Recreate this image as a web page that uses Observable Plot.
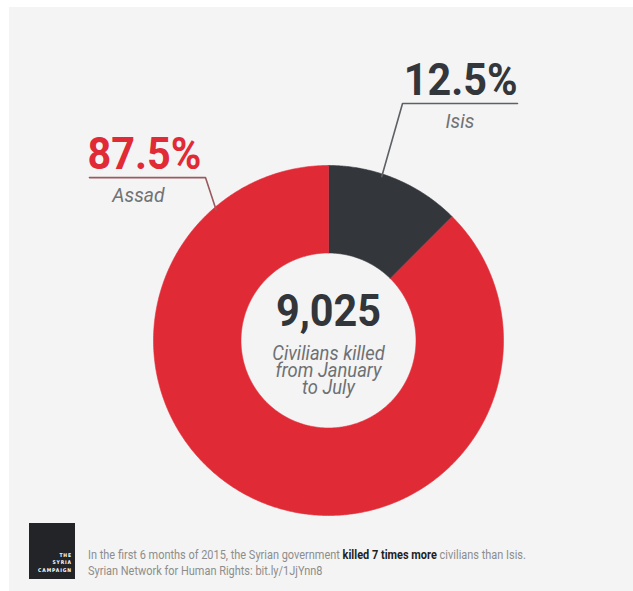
<!DOCTYPE html>
<html><head><meta charset="utf-8">
<script src="https://cdn.jsdelivr.net/npm/d3@7"></script>
<script src="https://cdn.jsdelivr.net/npm/@observablehq/plot@0.6"></script>
<style>
html,body{margin:0;padding:0;background:#fff;}
#page{position:relative;width:633px;height:591px;overflow:hidden;background:#fff;}
#panel{position:absolute;left:9px;top:7px;right:0;bottom:0;background:#f4f4f4;}
#chart{position:absolute;left:0;top:0;}
#logo{position:absolute;left:29px;top:523px;width:46px;height:56px;background:#232427;}
#logo div{position:absolute;right:3px;bottom:5px;color:#fff;font:bold 5px "DejaVu Sans Condensed",sans-serif;letter-spacing:0.9px;text-align:right;line-height:7.5px;}
#foot{position:absolute;left:88px;top:547px;font-family:Roboto,sans-serif;font-size:13px;line-height:16px;color:#8d8d8d;white-space:nowrap;transform:scaleX(0.843);transform-origin:0 0;}
#foot b{color:#1e1f22;}
</style></head>
<body>
<div id="page"><div id="panel"></div><div id="chart"></div>
<div id="logo"><div>THE<br>SYRIA<br>CAMPAIGN</div></div>
<div id="foot"></div></div>
<script>
// ---- data ----
const categories = ["Isis", "Assad"];
const shares = [12.5, 87.5];
const colors = ["#33363b", "#e02b37"];
const total = 9025;
const centerLines = ["Civilians killed", "from January", "to July"];
const footLine1 = ["In the first 6 months of 2015, the Syrian government ", "killed 7 times more", " civilians than Isis."];
const footLine2 = "Syrian Network for Human Rights: bit.ly/1JjYnn8";

// ---- layout (not data) ----
const FONT = "Roboto, sans-serif";
const labelLayout = {
  Isis:  {angle: 18,    elbow: [0.423, 1.354],  end: [1.08, 1.354],   anchor: "end",   dxPct: 0,  dxName: 0, line: "#5d6064"},
  Assad: {angle: -40.7, elbow: [-0.703, 0.931], end: [-1.366, 0.931], anchor: "start", dxPct: -2, dxName: -9, line: "#9a5a5e"}
};
const innerR = 0.5, outerR = 1;

const rows = categories.map((name, i) => ({name, share: shares[i], color: colors[i]}));
const arcs = d3.pie().sort(null).value(d => d.share)(rows);
const ring = arcs.flatMap(p => {
  const n = Math.max(2, Math.ceil((p.endAngle - p.startAngle) / (Math.PI / 360)));
  const pts = [];
  for (let i = 0; i <= n; i++) {
    const a = p.startAngle + (p.endAngle - p.startAngle) * i / n;
    pts.push({name: p.data.name, x: outerR * Math.sin(a), y: outerR * Math.cos(a)});
  }
  for (let i = n; i >= 0; i--) {
    const a = p.startAngle + (p.endAngle - p.startAngle) * i / n;
    pts.push({name: p.data.name, x: innerR * Math.sin(a), y: innerR * Math.cos(a)});
  }
  return pts;
});

const fmtPct = d => d3.format(".1f")(d) + "%";

const labelMarks = rows.flatMap(r => {
  const L = labelLayout[r.name];
  const a = L.angle * Math.PI / 180;
  const pts = [
    {x: outerR * Math.sin(a) * 0.985, y: outerR * Math.cos(a) * 0.985},
    {x: L.elbow[0], y: L.elbow[1]},
    {x: L.end[0], y: L.end[1]}
  ];
  const mid = {x: (L.elbow[0] + L.end[0]) / 2, y: L.end[1]};
  return [
    Plot.line(pts, {x: "x", y: "y", stroke: L.line, strokeWidth: 1.6}),
    Plot.text([r], {x: () => L.end[0], y: () => L.end[1], text: d => fmtPct(d.share), fill: r.color,
      textAnchor: L.anchor, lineAnchor: "bottom", dy: -9, dx: L.dxPct, fontSize: 45, fontWeight: "bold", fontFamily: FONT}),
    Plot.text([r], {x: () => mid.x, y: () => mid.y, text: "name", fill: "#707274", textAnchor: "middle",
      lineAnchor: "bottom", dy: 24, dx: L.dxName, fontSize: 21, fontStyle: "italic", fontFamily: FONT})
  ];
});

const chart = Plot.plot({
  width: 633, height: 591, margin: 0,
  style: {background: "transparent", overflow: "visible"},
  x: {domain: [-1, 1], range: [153, 503], axis: null},
  y: {domain: [-1, 1], range: [515, 165], axis: null},
  color: {domain: categories, range: colors},
  marks: [
    Plot.line(ring, {x: "x", y: "y", z: "name", fill: "name", stroke: "name", strokeWidth: 0.6, curve: "linear-closed"}),
    ...labelMarks,
    Plot.text([total], {x: () => 0, y: () => 0, text: d => d3.format(",")(d), fill: "#323539", fontSize: 45,
      fontWeight: "bold", fontFamily: FONT, lineAnchor: "bottom", dy: -15}),
    Plot.text([centerLines.join("\n")], {x: () => 0, y: () => 0, text: d => d, fill: "#6e7073", fontSize: 20,
      fontStyle: "italic", fontFamily: FONT, lineAnchor: "bottom", lineHeight: 0.83, dy: 53})
  ]
});
// condense the lettering (the original face is a narrow grotesque)
d3.select(chart).selectAll("text").each(function () {
  const t = this.getAttribute("transform") || "";
  this.setAttribute("transform", t + " scale(0.92,1)");
});
document.getElementById("chart").appendChild(chart);

const foot = document.getElementById("foot");
foot.innerHTML = footLine1[0] + "<b>" + footLine1[1] + "</b>" + footLine1[2] + "<br>" + footLine2;
</script>
</body></html>
